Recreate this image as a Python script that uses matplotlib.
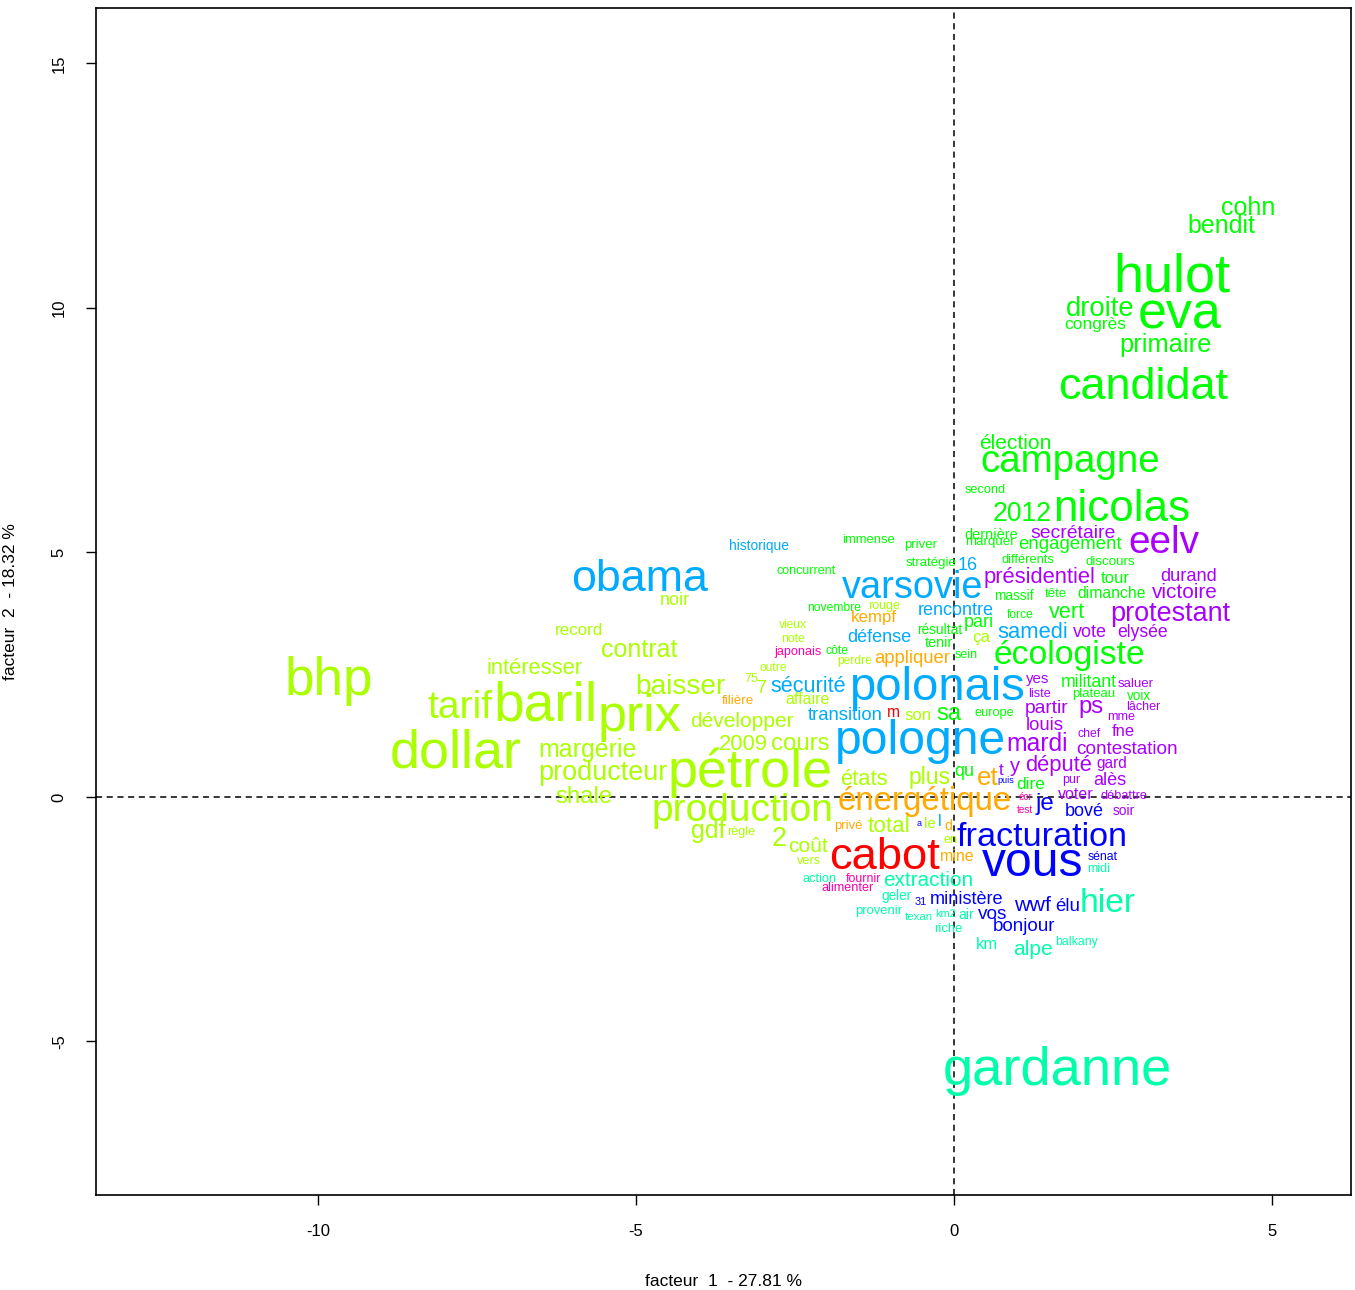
import matplotlib
matplotlib.use('Agg')
from matplotlib import pyplot as plt

plt.rcParams['font.family'] = ['Liberation Sans', 'DejaVu Sans']
plt.rcParams['axes.unicode_minus'] = False

# classe lime
mots_lime = ['bhp', 'dollar', 'tarif', 'baril', 'prix', 'intéresser', 'contrat', 'record', 'noir',
             'baisser', 'margerie', 'producteur', 'shale', 'pétrole', 'production', 'développer',
             '2009', 'cours', 'états', 'plus', 'gdf', 'règle', '2', 'coût', 'vers', 'total', 'le',
             'affaire', 'outre', '75', '7', 'vieux', 'note', 'perdre', 'son', 'ça', 'en', 'rouge']
x_lime = [-9.83, -7.83, -7.77, -6.43, -4.95, -6.59, -4.95, -5.90, -4.39,
          -4.31, -5.77, -5.52, -5.82, -3.21, -3.32, -3.33,
          -3.32, -2.42, -1.42, -0.39, -3.87, -3.35, -2.75, -2.30, -2.28, -1.02, -0.38,
          -2.30, -2.85, -3.19, -3.03, -2.53, -2.53, -1.56, -0.57, 0.42, -0.06, -1.10]
y_lime = [2.09, 0.61, 1.62, 1.57, 1.35, 2.52, 2.86, 3.31, 3.93,
          2.11, 0.82, 0.35, -0.12, 0.20, -0.49, 1.43,
          0.96, 0.96, 0.25, 0.27, -0.84, -0.78, -1.00, -1.12, -1.37, -0.72, -0.63,
          1.90, 2.58, 2.35, 2.13, 3.46, 3.17, 2.72, 1.57, 3.17, -0.94, 3.84]
t_lime = [53, 54, 39, 55, 52, 22, 25, 17, 18,
          28, 25, 27, 24, 54, 39, 21,
          22, 24, 22, 23, 25, 12.6, 27, 21, 12.7, 22.5, 15,
          16, 12, 12.6, 18, 12, 12.3, 12, 16.7, 17, 12.6, 12.5]

# classe verte
mots_vert = ['hulot', 'eva', 'cohn', 'bendit', 'droite', 'congrès', 'primaire', 'candidat', 'élection',
             'campagne', 'second', '2012', 'nicolas', 'dernière', 'marquer', 'engagement',
             'différents', 'discours', 'tour', 'massif', 'tête', 'dimanche', 'force', 'vert', 'pari',
             'résultat', 'tenir', 'écologiste', 'sein', 'militant', 'plateau', 'voix', 'europe', 'sa',
             'qu', 'dire', 'immense', 'priver', 'stratégie', 'concurrent', 'novembre', 'côte']
x_vert = [3.43, 3.55, 4.62, 4.21, 2.30, 2.22, 3.33, 2.97, 0.97,
          1.82, 0.49, 1.07, 2.63, 0.58, 0.57, 1.82,
          1.16, 2.45, 2.53, 0.94, 1.60, 2.47, 1.04, 1.78, 0.39,
          -0.22, -0.24, 1.81, 0.19, 2.12, 2.19, 2.91, 0.64, -0.08,
          0.16, 1.21, -1.34, -0.53, -0.36, -2.33, -1.89, -1.84]
y_vert = [10.33, 9.57, 11.90, 11.53, 9.84, 9.57, 9.10, 8.14, 7.12,
          6.65, 6.22, 5.64, 5.64, 5.28, 5.15, 5.07,
          4.79, 4.74, 4.38, 4.03, 4.09, 4.07, 3.66, 3.66, 3.48,
          3.33, 3.07, 2.72, 2.84, 2.25, 2.04, 1.98, 1.66, 1.57,
          0.43, 0.16, 5.19, 5.09, 4.72, 4.56, 3.80, 2.92]
t_vert = [54, 52, 25, 25, 27.5, 17.4, 25.5, 45, 21,
          38.5, 12.7, 26.5, 44, 14.5, 13.4, 18.7,
          12.9, 13.4, 16.8, 13.8, 13.2, 15.7, 12, 21.6, 18,
          13.7, 14.4, 33.8, 12.5, 17.7, 13.1, 13.5, 12.8, 23.7,
          18, 17.4, 13, 13.2, 13.3, 12.5, 12.1, 12.2]

# classe bleu ciel
mots_ciel = ['obama', 'historique', 'varsovie', 'polonais', 'pologne', 'sécurité', 'transition',
             'défense', 'rencontre', 'samedi', '16', 'l']
x_ciel = [-4.94, -3.07, -0.66, -0.27, -0.53, -2.30, -1.71, -1.18, 0.03, 1.23, 0.22, -0.22]
y_ciel = [4.21, 5.05, 4.07, 1.98, 0.88, 2.15, 1.57, 3.17, 3.72, 3.25, 4.64, -0.59]
t_ciel = [44.8, 13.8, 37.9, 47.3, 48, 21.7, 18.5, 18, 18, 22, 18, 16]

# classe bleue
mots_bleu = ['vous', 'fracturation', 'je', 'bové', 'ministère', 'wwf', 'élu', 'vos', 'bonjour',
             'sénat', '31', 'puis', 'a']
x_bleu = [1.24, 1.38, 1.43, 2.04, 0.20, 1.24, 1.78, 0.60, 1.10, 2.34, -0.52, 0.82, -0.55]
y_bleu = [-1.62, -1.00, -0.27, -0.39, -2.19, -2.33, -2.33, -2.49, -2.74, -1.29, -2.21, 0.29, -0.59]
t_bleu = [48, 34.2, 24, 18, 18.2, 21.5, 18.7, 19, 18.9, 12.3, 11, 9, 9]

# classe violette
mots_violet = ['eelv', 'secrétaire', 'présidentiel', 'durand', 'victoire', 'protestant', 'vote',
               'elysée', 'yes', 'saluer', 'liste', 'partir', 'ps', 'lâcher', 'mme', 'louis', 'chef',
               'fne', 'mardi', 'contestation', 't', 'y', 'député', 'gard', 'pur', 'alès', 'voter',
               'débattre', 'soir']
x_violet = [3.30, 1.87, 1.35, 3.68, 3.62, 3.40, 2.14,
            2.96, 1.31, 2.85, 1.34, 1.45, 2.15, 2.97, 2.63, 1.43, 2.12,
            2.66, 1.31, 2.72, 0.74, 0.96, 1.65, 2.48, 1.84, 2.45, 1.92,
            2.67, 2.67]
y_violet = [4.99, 5.30, 4.38, 4.42, 4.07, 3.60, 3.27,
            3.27, 2.33, 2.25, 2.04, 1.72, 1.72, 1.78, 1.57, 1.37, 1.23,
            1.25, 0.94, 0.88, 0.45, 0.51, 0.53, 0.59, 0.29, 0.25, -0.04,
            -0.04, -0.37]
t_violet = [38.7, 19.4, 22, 18.3, 20.8, 27, 18,
            17.6, 15, 13.2, 12.5, 19.3, 23.7, 12.5, 12.6, 18.5, 12.2,
            16.5, 24.8, 19, 17, 20, 22, 15.5, 12.5, 18, 16,
            12.8, 13.7]

# classe rose
mots_rose = ['japonais', 'écr', 'test', 'fournir', 'alimenter']
x_rose = [-2.45, 1.12, 1.12, -1.42, -1.67]
y_rose = [2.90, -0.06, -0.33, -1.74, -1.92]
t_rose = [12.6, 10, 10, 12.4, 12.6]

# classe orange
mots_orange = ['énergétique', 'appliquer', 'kempf', 'filière', 'privé', 'et', 'mine', 'd']
x_orange = [-0.46, -0.66, -1.26, -3.40, -1.67, 0.53, 0.05, -0.09]
y_orange = [-0.27, 2.74, 3.58, 1.90, -0.65, 0.25, -1.31, -0.67]
t_orange = [33, 18.5, 16.9, 13.4, 13, 26, 16, 14]

# classe rouge
mots_rouge = ['cabot', 'm']
x_rouge = [-1.10, -0.96]
y_rouge = [-1.47, 1.64]
t_rouge = [45.4, 15.6]

# classe vert d'eau
mots_eau = ['gardanne', 'hier', 'extraction', 'action', 'geler', 'provenir', 'texan', 'km2', 'air',
            'riche', 'km', 'alpe', 'balkany', 'midi']
x_eau = [1.62, 2.42, -0.41, -2.11, -0.90, -1.19, -0.55, -0.14, 0.19, -0.09, 0.52, 1.24, 1.93, 2.28]
y_eau = [-5.89, -2.35, -1.82, -1.74, -2.11, -2.39, -2.52, -2.45, -2.49, -2.76, -3.11, -3.23, -3.03, -1.53]
t_eau = [54.4, 33.6, 20.8, 12.7, 13.5, 13, 11.5, 11, 14, 13, 16.5, 21, 12.2, 12.5]

classes = [
    (mots_lime, x_lime, y_lime, t_lime, '#AAFF00'),
    (mots_vert, x_vert, y_vert, t_vert, '#00FF00'),
    (mots_eau, x_eau, y_eau, t_eau, '#00FFAA'),
    (mots_ciel, x_ciel, y_ciel, t_ciel, '#00AAFF'),
    (mots_bleu, x_bleu, y_bleu, t_bleu, '#0000FF'),
    (mots_violet, x_violet, y_violet, t_violet, '#AA00FF'),
    (mots_rose, x_rose, y_rose, t_rose, '#FF00AA'),
    (mots_orange, x_orange, y_orange, t_orange, '#FFAA00'),
    (mots_rouge, x_rouge, y_rouge, t_rouge, '#FF0000'),
]

fig = plt.figure(figsize=(13.55, 12.9), dpi=100)
ax = fig.add_axes([96 / 1355, 95 / 1290, 1255 / 1355, 1187 / 1290])
ax.set_xlim(-13.49, 6.24)
ax.set_ylim(-8.14, 16.13)

ax.axhline(0, color='black', lw=1.1, ls=(0, (4, 3)), zorder=1)
ax.axvline(0, color='black', lw=1.1, ls=(0, (4, 3)), zorder=1)

for mots, xs, ys, ts, coul in classes:
    for m, x, y, t in zip(mots, xs, ys, ts):
        ax.text(x, y, m, color=coul, fontsize=t * 0.72, ha='center', va='baseline', zorder=2)

ax.set_xticks([-10, -5, 0, 5])
ax.set_yticks([-5, 0, 5, 10, 15])
ax.tick_params(labelsize=12, length=7, width=1, pad=14)
for lab in ax.get_yticklabels():
    lab.set_rotation(90)
    lab.set_va('center')
for s in ax.spines.values():
    s.set_linewidth(1.2)

ax.set_xlabel('facteur  1  - 27.81 %', fontsize=12.5, labelpad=25)
ax.set_ylabel('facteur  2  - 18.32 %', fontsize=12.5, labelpad=24)

plt.savefig('out.png', dpi=100)
